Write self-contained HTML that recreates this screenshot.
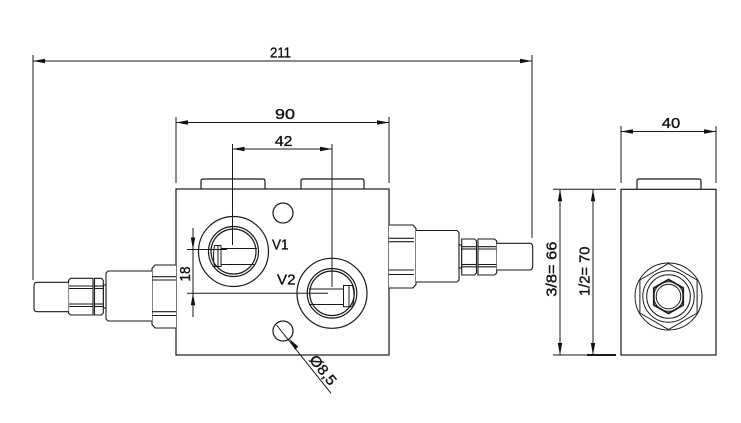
<!DOCTYPE html>
<html><head><meta charset="utf-8"><style>
html,body{margin:0;padding:0;background:#fff;}
svg{display:block;}
text{font-family:"Liberation Sans",sans-serif;font-size:14.5px;fill:#111;stroke:#111;stroke-width:0.35px;}
</style></head><body>
<svg width="741" height="423" viewBox="0 0 741 423" xmlns="http://www.w3.org/2000/svg">
<rect width="741" height="423" fill="#fff"/>
<g stroke="#1a1a1a" stroke-width="1" fill="none">
<line x1="33" y1="55" x2="33" y2="280"/>
<line x1="532" y1="55" x2="532" y2="238"/>
<line x1="33" y1="61" x2="532" y2="61"/>
<line x1="176" y1="117" x2="176" y2="183"/>
<line x1="389" y1="117" x2="389" y2="183"/>
<line x1="176" y1="122.5" x2="389" y2="122.5"/>
<line x1="232.5" y1="144" x2="232.5" y2="245"/>
<line x1="332" y1="144" x2="332" y2="287"/>
<line x1="232.5" y1="149" x2="332" y2="149"/>
<line x1="621" y1="126" x2="621" y2="183"/>
<line x1="716" y1="126" x2="716" y2="183"/>
<line x1="621" y1="131.5" x2="716" y2="131.5"/>
<line x1="553" y1="189.3" x2="616" y2="189.3"/>
<line x1="553" y1="355" x2="616" y2="355"/>
<line x1="587" y1="355" x2="616" y2="355" stroke-width="2"/>
<line x1="560" y1="189.3" x2="560" y2="355"/>
<line x1="593" y1="189.3" x2="593" y2="355"/>
<line x1="193" y1="228" x2="193" y2="317"/>
<line x1="187" y1="249.5" x2="227" y2="249.5"/>
<line x1="187" y1="293.3" x2="328" y2="293.3"/>
<line x1="276.5" y1="325" x2="331" y2="393.3"/>
</g>

<g fill="#111" stroke="none">
<polygon points="33,61 45,58.8 45,63.2"/>
<polygon points="532,61 520,58.8 520,63.2"/>
<polygon points="176,122.5 188,120.3 188,124.7"/>
<polygon points="389,122.5 377,120.3 377,124.7"/>
<polygon points="232.5,149 244.5,146.8 244.5,151.2"/>
<polygon points="332,149 320,146.8 320,151.2"/>
<polygon points="621,131.5 633,129.3 633,133.7"/>
<polygon points="716,131.5 704,129.3 704,133.7"/>
<polygon points="560,189.3 557.8,201.3 562.2,201.3"/>
<polygon points="560,355 557.8,343 562.2,343"/>
<polygon points="593,189.3 590.8,201.3 595.2,201.3"/>
<polygon points="593,355 590.8,343 595.2,343"/>
<polygon points="193,249.5 190.8,237.5 195.2,237.5"/>
<polygon points="193,293.3 190.8,305.3 195.2,305.3"/>
<polygon points="289.2,338.8 298.4,346.8 295.0,349.6"/>
</g>

<g stroke="#1a1a1a" stroke-width="1.2" fill="none">
<rect x="176" y="189" width="213" height="166"/>
<path d="M201,189 L201,181 Q201,179 203,179 L263,179 Q265,179 265,181 L265,189"/>
<path d="M301,189 L301,181 Q301,179 303,179 L362,179 Q364,179 364,181 L364,189"/>
<circle cx="283" cy="213" r="10"/>
<circle cx="283" cy="331" r="10"/>
<circle cx="233.5" cy="251.5" r="35"/>
<circle cx="233.5" cy="251.5" r="25"/>
<circle cx="233.5" cy="251.5" r="22.5"/>
<circle cx="332" cy="293.3" r="35"/>
<circle cx="332" cy="293.3" r="24.8"/>
<circle cx="332" cy="293.3" r="22.3"/>
</g>
<g stroke="#1a1a1a" stroke-width="1" fill="none">
<line x1="221" y1="248.5" x2="257" y2="248.5"/>
<line x1="221" y1="264.5" x2="255" y2="264.5"/>
<path d="M221,245.5 L214.5,245.5 Q212.5,256 214.5,266.5 L221,266.5 Z"/>
<line x1="218" y1="245.5" x2="218" y2="266.5"/>
<line x1="309" y1="289" x2="343.5" y2="289"/>
<line x1="309" y1="304.5" x2="343.5" y2="304.5"/>
<path d="M343.5,285.5 L352.5,285.5 Q355.5,296 352.5,306.8 L343.5,306.8 Z"/>
<line x1="349" y1="285.5" x2="349" y2="306.8"/>
</g>

<g stroke="#1a1a1a" stroke-width="1.1" fill="#fff">
<path d="M176,265 L155,265 L152,268.5 L152,324.5 L155,328 L176,328"/>
<line x1="152" y1="276.7" x2="176" y2="276.7"/>
<line x1="152" y1="280" x2="176" y2="280"/>
<line x1="152" y1="311.7" x2="176" y2="311.7"/>
<line x1="152" y1="315.5" x2="176" y2="315.5"/>
<path d="M152,271 L108,271 L106,273 L106,319 L108,321 L152,321"/>
<rect x="103.3" y="285" width="2.7" height="23"/>
<path d="M93,278.3 L70.5,278.3 L68.5,280.5 L68.5,313 L70.5,315 L93,315 Z"/>
<path d="M94.5,278.3 L101.5,278.3 L103.3,280.5 L103.3,313 L101.5,315 L94.5,315 Z"/>
<line x1="68.5" y1="286" x2="93" y2="286"/>
<line x1="68.5" y1="288.5" x2="93" y2="288.5"/>
<line x1="68.5" y1="304" x2="93" y2="304"/>
<line x1="68.5" y1="306.5" x2="93" y2="306.5"/>
<line x1="94.5" y1="286" x2="103.3" y2="286"/>
<line x1="94.5" y1="288.5" x2="103.3" y2="288.5"/>
<line x1="94.5" y1="304" x2="103.3" y2="304"/>
<line x1="94.5" y1="306.5" x2="103.3" y2="306.5"/>
<path d="M68.5,282.3 L37,282.3 Q34,282.3 34,286 L34,308 Q34,311.7 37,311.7 L68.5,311.7"/>
</g>

<g stroke="#1a1a1a" stroke-width="1.1" fill="#fff">
<path d="M389,225 L413,225 L416,228.5 L416,284.5 L413,288 L389,288"/>
<line x1="389" y1="238.3" x2="414" y2="238.3"/>
<line x1="389" y1="241.7" x2="414" y2="241.7"/>
<line x1="389" y1="270" x2="414" y2="270"/>
<line x1="389" y1="274.5" x2="414" y2="274.5"/>
<path d="M416,230.5 L457,230.5 L459,232.5 L459,280 L457,282 L416,282"/>
<rect x="459" y="245" width="2.7" height="23"/>
<path d="M461.7,239 L474.5,239 L476.5,241 L476.5,273 L474.5,275 L461.7,275 Z"/>
<path d="M478,239 L494.5,239 L496.7,241 L496.7,273 L494.5,275 L478,275 Z"/>
<line x1="461.7" y1="246.7" x2="476.5" y2="246.7"/>
<line x1="461.7" y1="249" x2="476.5" y2="249"/>
<line x1="461.7" y1="264.5" x2="476.5" y2="264.5"/>
<line x1="461.7" y1="266.8" x2="476.5" y2="266.8"/>
<line x1="478" y1="246.7" x2="496.7" y2="246.7"/>
<line x1="478" y1="249" x2="496.7" y2="249"/>
<line x1="478" y1="264.5" x2="496.7" y2="264.5"/>
<line x1="478" y1="266.8" x2="496.7" y2="266.8"/>
<path d="M496.7,243.3 L529.5,243.3 Q532.7,243.3 532.7,247 L532.7,266.3 Q532.7,270 529.5,270 L496.7,270"/>
</g>

<g stroke="#1a1a1a" stroke-width="1.2" fill="none">
<rect x="621" y="189.3" width="95" height="165.7"/>
<path d="M637,189.3 L637,181 Q637,179 639,179 L699,179 Q701,179 701,181 L701,189.3"/>
</g>
<g stroke="#1a1a1a" stroke-width="1" fill="none">
<circle cx="668.5" cy="296.5" r="33.5"/>
<polygon points="668.5,263.5 697.1,280 697.1,313 668.5,329.5 639.9,313 639.9,280"/>
<circle cx="668.5" cy="296.5" r="25.7"/>
<circle cx="668.5" cy="296.5" r="21.8"/>
<polygon points="668.5,279.5 683.2,288 683.2,305 668.5,313.5 653.8,305 653.8,288" stroke-width="1.8"/>
<circle cx="668.5" cy="296.5" r="14.8"/>
<circle cx="668.5" cy="296.5" r="12.3"/>
</g>

<text x="280.5" y="57.7" text-anchor="middle" textLength="21" lengthAdjust="spacingAndGlyphs">211</text>
<text x="285" y="119" text-anchor="middle" textLength="20" lengthAdjust="spacingAndGlyphs">90</text>
<text x="283.7" y="146" text-anchor="middle" textLength="17.5" lengthAdjust="spacingAndGlyphs">42</text>
<text x="671" y="128" text-anchor="middle" textLength="18.5" lengthAdjust="spacingAndGlyphs">40</text>
<text x="272" y="249.5" textLength="16.5" lengthAdjust="spacingAndGlyphs">V1</text>
<text x="277" y="284.5" textLength="18.5" lengthAdjust="spacingAndGlyphs">V2</text>
<text transform="translate(190,274) rotate(-90)" text-anchor="middle" textLength="15" lengthAdjust="spacingAndGlyphs">18</text>
<text transform="translate(556.7,296.7) rotate(-90)" textLength="55" lengthAdjust="spacingAndGlyphs">3/8= 66</text>
<text transform="translate(589.5,296) rotate(-90)" textLength="49.5" lengthAdjust="spacingAndGlyphs">1/2= 70</text>
<text transform="translate(319.2,373.2) rotate(51.5)" text-anchor="middle" textLength="34" lengthAdjust="spacingAndGlyphs">Ø8,5</text>
</svg>
</body></html>
